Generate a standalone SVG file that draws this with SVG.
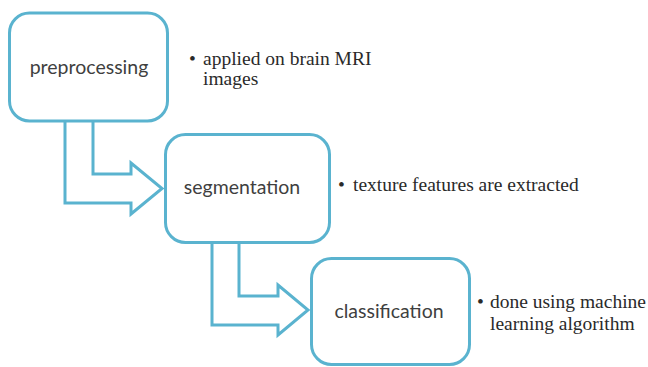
<svg xmlns="http://www.w3.org/2000/svg" width="648" height="367" viewBox="0 0 648 367">
<style>
.box{fill:#fff;stroke:#5ab3cf;stroke-width:3}
.arr{fill:#fff;stroke:#5ab3cf;stroke-width:3;stroke-linejoin:miter}
.lbl{font-family:Lato,"Open Sans","Noto Sans",sans-serif;font-size:19.5px;fill:#3f3f3f;text-anchor:middle}
.note{font-family:"Liberation Serif","Times New Roman",serif;font-size:19.5px;fill:#2a2a2a}
</style>
<rect width="648" height="367" fill="#fff"/>
<g id="connectors">
<path class="arr" d="M65,122 V203 H131 V214 L162,188.5 L131,163 V174 H93 V122"/>
<path class="arr" d="M212,243 V325 H278 V335 L308,310 L278,285 V296 H239 V243"/>
</g>
<g id="preprocessing">
<rect class="box" x="9.5" y="13" width="158" height="108" rx="20"/>
<text class="lbl" x="89" y="74">preprocessing</text>
</g>
<g id="segmentation">
<rect class="box" x="165.5" y="134.5" width="164" height="108" rx="20"/>
<text class="lbl" x="242" y="194">segmentation</text>
</g>
<g id="classification">
<rect class="box" x="311.5" y="258.5" width="158" height="106" rx="20"/>
<text class="lbl" x="389" y="318">classification</text>
</g>
<g id="notes">
<text class="note" x="189" y="65">•</text>
<text class="note" x="203" y="65">applied on brain MRI</text>
<text class="note" x="203" y="85">images</text>
<text class="note" x="338" y="191">•</text>
<text class="note" x="353" y="191">texture features are extracted</text>
<text class="note" x="477" y="308">•</text>
<text class="note" x="490" y="308">done using machine</text>
<text class="note" x="490" y="330">learning algorithm</text>
</g>
</svg>
